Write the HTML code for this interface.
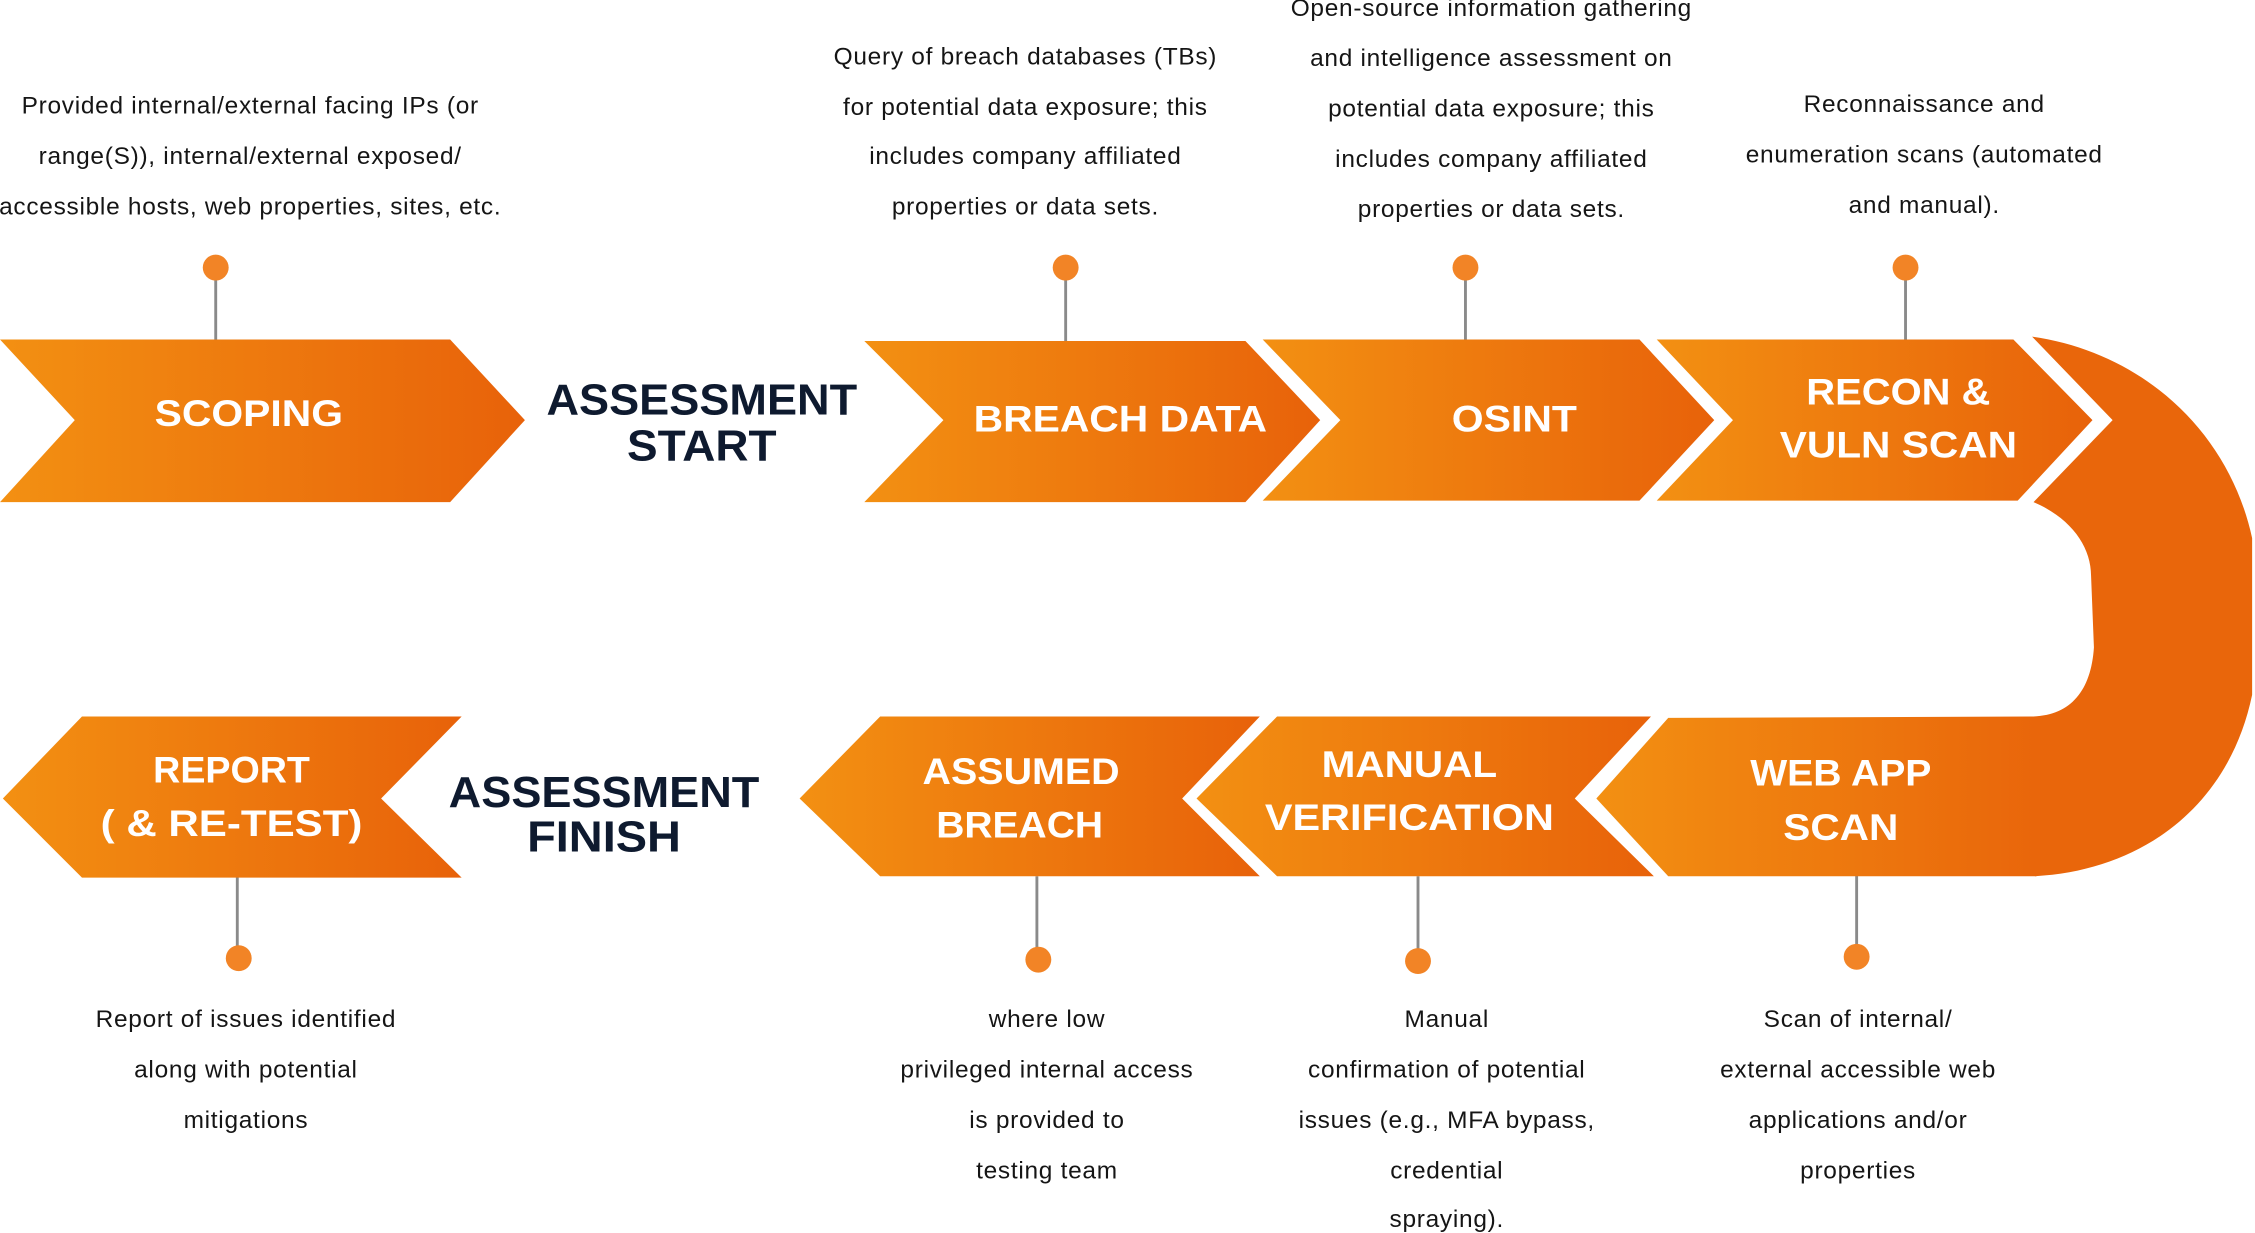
<!DOCTYPE html>
<html><head><meta charset="utf-8"><style>
html,body{margin:0;padding:0;background:#fff;}
svg{display:block;}
.t{font-family:"Liberation Sans",sans-serif;font-size:17px;letter-spacing:0.5px;fill:#151515;text-anchor:middle;}
.h{font-family:"Liberation Sans",sans-serif;font-weight:bold;font-size:26px;fill:#fff;text-anchor:middle;}
.a{font-family:"Liberation Sans",sans-serif;font-weight:bold;font-size:30px;fill:#0e1a2f;text-anchor:middle;}
</style></head><body>
<svg width="2255" height="1233" viewBox="0 0 1568 857" preserveAspectRatio="none" xmlns="http://www.w3.org/2000/svg">
<defs>
<linearGradient id="g" x1="0" y1="0" x2="1" y2="0"><stop offset="0" stop-color="#f39012"/><stop offset="1" stop-color="#e8620a"/></linearGradient>
<linearGradient id="gw" x1="0" y1="0" x2="1" y2="0"><stop offset="0" stop-color="#f39012"/><stop offset="1" stop-color="#e9660b"/></linearGradient>
</defs>
<g stroke="#8a8a8a" stroke-width="2">
<line x1="150" y1="186" x2="150" y2="237"/><line x1="741" y1="186" x2="741" y2="238"/>
<line x1="1019" y1="186" x2="1019" y2="237"/><line x1="1325" y1="186" x2="1325" y2="237"/>
<line x1="165" y1="609" x2="165" y2="666"/><line x1="721" y1="609" x2="721" y2="667"/>
<line x1="986" y1="609" x2="986" y2="668"/><line x1="1291" y1="608" x2="1291" y2="665"/>
</g>
<g fill="#f28426">
<circle cx="150" cy="186" r="9"/><circle cx="741" cy="186" r="9"/><circle cx="1019" cy="186" r="9"/><circle cx="1325" cy="186" r="9"/>
<circle cx="166" cy="666" r="9"/><circle cx="722" cy="667" r="9"/><circle cx="986" cy="668" r="9"/><circle cx="1291" cy="665" r="9"/>
</g>
<polygon fill="url(#g)" points="0,236 313,236 365,292 313,349 0,349 52,292"/>
<polygon fill="url(#g)" points="601,237 866,237 918,292 866,349 601,349 656,292"/>
<polygon fill="url(#g)" points="878,236 1140,236 1192,292 1140,348 878,348 932,292"/>
<polygon fill="url(#g)" points="1152,236 1400,236 1455,292 1403,348 1152,348 1205,292"/>
<path fill="#e9660b" d="M1413,234 C1490,245 1550,300 1566,374 L1566,483 C1550,560 1490,605 1415,609 L1414,498 C1440,497 1454,480 1456,450 L1454,400 C1454,380 1440,360 1414,349 L1469,292 Z"/>
<polygon fill="url(#gw)" points="1160,499 1412,498 1416,498 1416,609 1160,609 1110,555"/>
<polygon fill="url(#g)" points="888,498 1148,498 1095,555 1150,609 888,609 832,555"/>
<polygon fill="url(#g)" points="612,498 876,498 822,555 876,609 612,609 556,555"/>
<polygon fill="url(#g)" points="57,498 321,498 265,555 321,610 57,610 2,555"/>
<text class="h" x="173" y="296" textLength="131" lengthAdjust="spacingAndGlyphs">SCOPING</text>
<text class="h" x="779" y="300" textLength="204" lengthAdjust="spacingAndGlyphs">BREACH DATA</text>
<text class="h" x="1053" y="300" textLength="87" lengthAdjust="spacingAndGlyphs">OSINT</text>
<text class="h" x="1320" y="281" textLength="128" lengthAdjust="spacingAndGlyphs">RECON &amp;</text>
<text class="h" x="1320" y="318" textLength="165" lengthAdjust="spacingAndGlyphs">VULN SCAN</text>
<text class="h" x="1280" y="546" textLength="126" lengthAdjust="spacingAndGlyphs">WEB APP</text>
<text class="h" x="1280" y="584" textLength="80" lengthAdjust="spacingAndGlyphs">SCAN</text>
<text class="h" x="980" y="540" textLength="122" lengthAdjust="spacingAndGlyphs">MANUAL</text>
<text class="h" x="980" y="577" textLength="201" lengthAdjust="spacingAndGlyphs">VERIFICATION</text>
<text class="h" x="710" y="545" textLength="137" lengthAdjust="spacingAndGlyphs">ASSUMED</text>
<text class="h" x="709" y="582" textLength="116" lengthAdjust="spacingAndGlyphs">BREACH</text>
<text class="h" x="161" y="544" textLength="109" lengthAdjust="spacingAndGlyphs">REPORT</text>
<text class="h" x="161" y="581" textLength="182" lengthAdjust="spacingAndGlyphs">( &amp; RE-TEST)</text>
<text class="a" x="488" y="288" textLength="216" lengthAdjust="spacingAndGlyphs">ASSESSMENT</text>
<text class="a" x="488" y="320" textLength="104" lengthAdjust="spacingAndGlyphs">START</text>
<text class="a" x="420" y="561" textLength="216" lengthAdjust="spacingAndGlyphs">ASSESSMENT</text>
<text class="a" x="420" y="592" textLength="107" lengthAdjust="spacingAndGlyphs">FINISH</text>
<g class="t">
<text x="174" y="79">Provided internal/external facing IPs (or</text>
<text x="174" y="114">range(S)), internal/external exposed/</text>
<text x="174" y="149">accessible hosts, web properties, sites, etc.</text>
<text x="713" y="45">Query of breach databases (TBs)</text>
<text x="713" y="80">for potential data exposure; this</text>
<text x="713" y="114">includes company affiliated</text>
<text x="713" y="149">properties or data sets.</text>
<text x="1037" y="11">Open-source information gathering</text>
<text x="1037" y="46">and intelligence assessment on</text>
<text x="1037" y="81">potential data exposure; this</text>
<text x="1037" y="116">includes company affiliated</text>
<text x="1037" y="151">properties or data sets.</text>
<text x="1338" y="78">Reconnaissance and</text>
<text x="1338" y="113">enumeration scans (automated</text>
<text x="1338" y="148">and manual).</text>
<text x="171" y="714">Report of issues identified</text>
<text x="171" y="749">along with potential</text>
<text x="171" y="784">mitigations</text>
<text x="728" y="714">where low</text>
<text x="728" y="749">privileged internal access</text>
<text x="728" y="784">is provided to</text>
<text x="728" y="819">testing team</text>
<text x="1006" y="714">Manual</text>
<text x="1006" y="749">confirmation of potential</text>
<text x="1006" y="784">issues (e.g., MFA bypass,</text>
<text x="1006" y="819">credential</text>
<text x="1006" y="853">spraying).</text>
<text x="1292" y="714">Scan of internal/</text>
<text x="1292" y="749">external accessible web</text>
<text x="1292" y="784">applications and/or</text>
<text x="1292" y="819">properties</text>
</g>
</svg>
</body></html>
